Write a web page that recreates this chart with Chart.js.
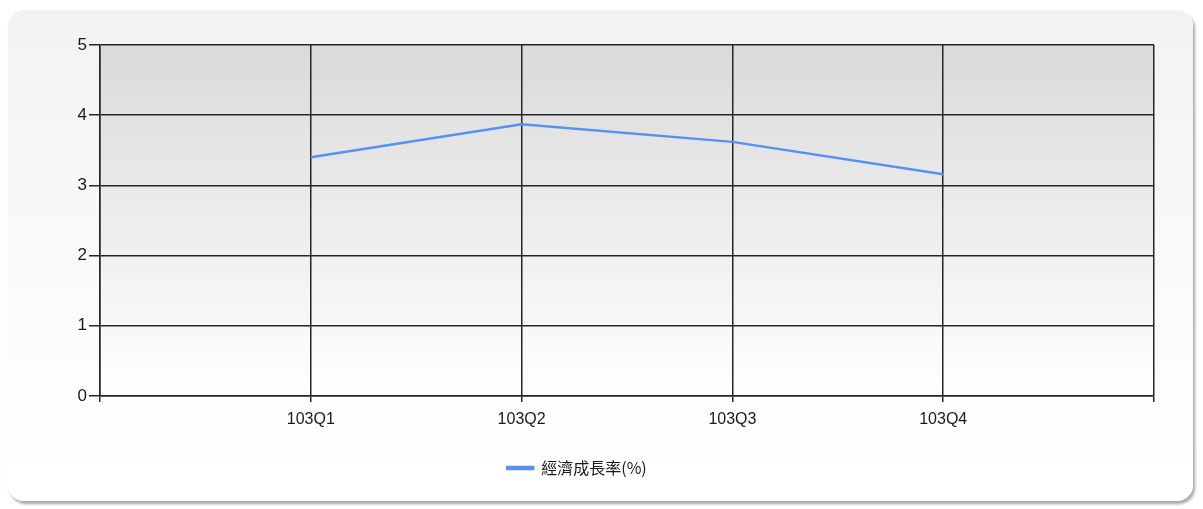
<!DOCTYPE html>
<html>
<head>
<meta charset="utf-8">
<script src="https://cdn.jsdelivr.net/npm/chart.js@4"></script>
<style>
    html, body { margin: 0; padding: 0; background: #ffffff; }
    #wrap { position: relative; width: 1203px; height: 509px; overflow: hidden; }
    #card {
        position: absolute; left: 8px; top: 10px; width: 1185px; height: 491px;
        border-radius: 16px;
        background: linear-gradient(to bottom, #f2f2f2 0%, #fbfbfb 60%, #ffffff 100%);
        box-shadow: 2px 3px 3px rgba(0,0,0,0.35);
    }
    #chart { position: absolute; left: 0; top: 0; }
</style>
</head>
<body>
<div id="wrap">
    <div id="card"></div>
    <canvas id="chart" width="1203" height="509"></canvas>
</div>
<script>
// Dados do gráfico
const categories = ['103Q1', '103Q2', '103Q3', '103Q4'];
const growthRate = [3.40, 3.87, 3.62, 3.16];
const yTicks = [0, 1, 2, 3, 4, 5];
const seriesName = '經濟成長率(%)';

// Fundo em degradê da área de plotagem
const plotBackground = {
    id: 'plotBackground',
    beforeDraw(chart) {
        const { ctx, chartArea } = chart;
        const g = ctx.createLinearGradient(0, chartArea.top, 0, chartArea.bottom);
        g.addColorStop(0, '#dadada');
        g.addColorStop(1, '#ffffff');
        ctx.save();
        ctx.fillStyle = g;
        ctx.fillRect(chartArea.left, chartArea.top, chartArea.right - chartArea.left, chartArea.bottom - chartArea.top);
        ctx.restore();
    }
};

const gridStyle = { color: '#262626', lineWidth: 1.5, tickColor: '#262626' };

new Chart(document.getElementById('chart'), {
    type: 'line',
    data: {
        datasets: [{
            label: seriesName,
            data: growthRate.map((v, i) => ({ x: i + 1, y: v })),
            borderColor: '#5592f2',
            backgroundColor: '#5592f2',
            borderWidth: 2.5,
            pointRadius: 0,
            tension: 0
        }]
    },
    options: {
        responsive: false,
        animation: false,
        devicePixelRatio: 1,
        layout: { padding: { top: 45, right: 49, left: 0, bottom: 23 } },
        scales: {
            x: {
                type: 'linear',
                min: 0,
                max: categories.length + 1,
                afterBuildTicks: (scale) => {
                    scale.ticks = [0, 1, 2, 3, 4, 5].map(v => ({ value: v }));
                },
                afterFit: (scale) => { scale.height = 52; },
                grid: { ...gridStyle, tickLength: 6 },
                border: { color: '#262626', width: 1.5 },
                ticks: {
                    autoSkip: false,
                    maxRotation: 0,
                    padding: 8,
                    color: '#1a1a1a',
                    font: { family: 'Liberation Sans, Arial', size: 16 },
                    callback: (v) => categories[v - 1] || ''
                }
            },
            y: {
                min: 0,
                max: 5,
                afterBuildTicks: (scale) => {
                    scale.ticks = yTicks.map(v => ({ value: v }));
                },
                afterFit: (scale) => { scale.width = 100; },
                grid: { ...gridStyle, tickLength: 11 },
                border: { color: '#262626', width: 1.5 },
                ticks: {
                    padding: 2,
                    color: '#1a1a1a',
                    font: { family: 'Liberation Sans, Arial', size: 17 }
                }
            }
        },
        plugins: {
            legend: {
                position: 'bottom',
                labels: {
                    boxWidth: 26,
                    boxHeight: 2,
                    padding: 12,
                    color: '#1a1a1a',
                    font: { family: 'Noto Sans CJK TC, Liberation Sans', size: 16 }
                }
            },
            tooltip: { enabled: false }
        }
    },
    plugins: [plotBackground]
});
</script>
</body>
</html>
